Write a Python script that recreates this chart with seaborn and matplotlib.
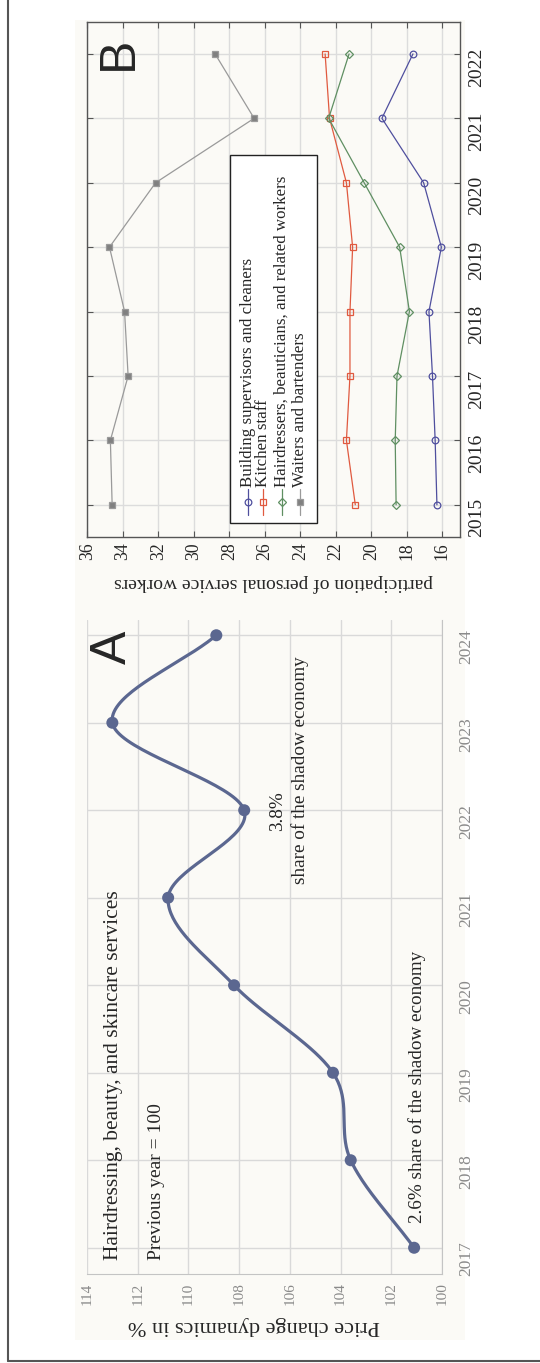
import numpy as np
import pandas as pd
import seaborn as sns
import matplotlib.pyplot as plt
from matplotlib.lines import Line2D
from matplotlib.patches import Rectangle

# Panel A: price change dynamics (previous year = 100)
yearsA = [2017, 2018, 2019, 2020, 2021, 2022, 2023, 2024]
priceA = [101.1, 103.6, 104.3, 108.2, 110.8, 107.8, 113.0, 108.9]

# Panel B: participation of personal service workers
yearsB = [2015, 2016, 2017, 2018, 2019, 2020, 2021, 2022]
building = [16.3, 16.4, 16.55, 16.75, 16.05, 17.05, 19.4, 17.65]
kitchen = [20.9, 21.4, 21.2, 21.2, 21.05, 21.4, 22.35, 22.6]
hairdressers = [18.6, 18.65, 18.55, 17.85, 18.4, 20.4, 22.4, 21.25]
waiters = [34.6, 34.7, 33.7, 33.9, 34.75, 32.15, 26.6, 28.8]
groupsB = ["Building supervisors and cleaners", "Kitchen staff",
           "Hairdressers, beauticians, and related workers", "Waiters and bartenders"]

W, H = 540, 1363
SERIF = "Liberation Serif"


def fx(px):
    return px / W


def fy(py):
    return 1 - py / H


def smooth(xs, ys, n=40):
    # catmull-rom style smoothing of the line between the points
    xs = np.asarray(xs, float)
    ys = np.asarray(ys, float)
    outx, outy = [], []
    k = len(xs)
    for i in range(k - 1):
        m0 = (ys[i + 1] - ys[i - 1]) / 2 if i > 0 else ys[1] - ys[0]
        m1 = (ys[i + 2] - ys[i]) / 2 if i + 2 < k else ys[-1] - ys[-2]
        t = np.linspace(0, 1, n)
        h00 = 2 * t**3 - 3 * t**2 + 1
        h10 = t**3 - 2 * t**2 + t
        h01 = -2 * t**3 + 3 * t**2
        h11 = t**3 - t**2
        outx.extend(xs[i] + t * (xs[i + 1] - xs[i]))
        outy.extend(h00 * ys[i] + h10 * m0 + h01 * ys[i + 1] + h11 * m1)
    return np.array(outx), np.array(outy)


sns.set_style("white")
plt.rcParams["font.family"] = [SERIF, "DejaVu Serif"]

fig = plt.figure(figsize=(W / 100, H / 100), dpi=100)
fig.patch.set_facecolor("white")

# off-white plotting area and outer frame
fig.add_artist(Rectangle((fx(75), fy(1340)), fx(465) - fx(75), fy(20) - fy(1340),
                         transform=fig.transFigure, facecolor="#fbfaf6", edgecolor="none", zorder=0))
fig.add_artist(Line2D([fx(8), fx(8)], [fy(1361), 1], transform=fig.transFigure, color="#555555", lw=1.5))
fig.add_artist(Line2D([fx(8), 1], [fy(1361), fy(1361)], transform=fig.transFigure, color="#555555", lw=1.5))

# ---------------- Panel A ----------------
axA = fig.add_axes([fx(87), fy(1274), fx(442) - fx(87), fy(619.5) - fy(1274)])
axA.set_facecolor("none")
sx, sy = smooth(yearsA, priceA)
dfA = pd.DataFrame({"year": sx, "price": sy})
sns.lineplot(data=dfA, x="price", y="year", orient="y", sort=False, color="#5b6790", lw=2.3, ax=axA)
sns.scatterplot(x=priceA, y=yearsA, color="#5b6790", s=75, edgecolor="none", zorder=5, ax=axA)
axA.set_xlim(114, 100)
axA.set_ylim(2016.7, 2024.18)
axA.set_xticks(np.arange(100, 115, 2))
axA.set_yticks(yearsA)
axA.grid(True, color="#d9d9d9", lw=1)
axA.yaxis.tick_right()
axA.tick_params(axis="x", labelrotation=90, labelsize=11, colors="#8a8a8a", length=0, pad=6)
axA.tick_params(axis="y", labelrotation=90, labelsize=12.5, colors="#8a8a8a", length=0, pad=12)
for s in ["top", "left"]:
    axA.spines[s].set_visible(False)
for s in ["bottom", "right"]:
    axA.spines[s].set_color("#c4c4c4")
axA.set_xlabel("Price change dynamics in %", rotation=180, fontsize=16)
axA.xaxis.set_label_coords(0.47, -0.064)
axA.set_ylabel("")

axA.text(112.97, 2016.86, "Hairdressing, beauty, and skincare services", rotation=90,
         ha="center", va="bottom", fontsize=15.5)
axA.text(111.24, 2016.86, "Previous year = 100", rotation=90, ha="center", va="bottom", fontsize=14)
axA.text(100.99, 2017.28, "2.6% share of the shadow economy", rotation=90, ha="center", va="bottom", fontsize=13.8)
axA.text(106.5, 2021.99, "3.8%", rotation=90, ha="center", va="center", fontsize=13.8)
axA.text(105.6, 2022.46, "share of the shadow economy", rotation=90, ha="center", va="center", fontsize=13.8)

fig.text(fx(113), fy(647), "A", rotation=90, ha="center", va="center", fontsize=36, family="Liberation Sans")

# ---------------- Panel B ----------------
axB = fig.add_axes([fx(87.3), fy(537), fx(460) - fx(87.3), fy(21.7) - fy(537)])
axB.set_facecolor("none")
styles = {
    groupsB[0]: dict(color="#4f4f9e", marker="o", mfc="none", ms=4.8),
    groupsB[1]: dict(color="#e05a40", marker="s", mfc="none", ms=4.8),
    groupsB[2]: dict(color="#5f8f62", marker="D", mfc="none", ms=3.8),
    groupsB[3]: dict(color="#9a9a9a", marker="s", mfc="#808080", ms=4.8),
}
seriesB = [building, kitchen, hairdressers, waiters]
for name, vals in zip(groupsB, seriesB):
    st = styles[name]
    sns.lineplot(x=vals, y=yearsB, orient="y", sort=False, color=st["color"], lw=0.9,
                 marker=st["marker"], markersize=st["ms"], mfc=st["mfc"], mec=st["color"], mew=0.9, ax=axB)

axB.set_xlim(36, 15)
axB.set_ylim(2014.5, 2022.5)
axB.set_xticks(np.arange(16, 37, 2))
axB.set_yticks(yearsB)
axB.grid(True, color="#dcdcdc", lw=1)
axB.yaxis.tick_right()
axB.tick_params(axis="both", direction="in", length=4, color="#555555",
                top=True, bottom=True, left=True, right=True)
axB.tick_params(axis="x", labelrotation=90, labelsize=12.7, pad=4)
axB.tick_params(axis="y", labelrotation=90, labelsize=14, pad=6)
for s in axB.spines.values():
    s.set_color("#555555")
    s.set_linewidth(1)
axB.set_xlabel("participation of personal service workers", rotation=180, fontsize=14, labelpad=10)
axB.set_ylabel("")

# legend box, drawn rotated like the rest of the figure
leg_x0, leg_x1 = (230 - 87.3) / 372.7, (317 - 87.3) / 372.7
leg_y0, leg_y1 = (537 - 523) / 515.3, (537 - 155) / 515.3
axB.add_patch(Rectangle((leg_x0, leg_y0), leg_x1 - leg_x0, leg_y1 - leg_y0, transform=axB.transAxes,
                        facecolor="white", edgecolor="#222222", lw=1, zorder=6))
leg_cols = [248, 263, 282, 300]
h0, h1 = (537 - 515) / 515.3, (537 - 489) / 515.3
for name, cx in zip(groupsB, leg_cols):
    st = styles[name]
    xa = (cx - 87.3) / 372.7
    axB.plot([xa, xa], [h0, h1], transform=axB.transAxes, color=st["color"], lw=0.9, zorder=7)
    axB.plot([xa], [(h0 + h1) / 2], transform=axB.transAxes, marker=st["marker"], markersize=st["ms"],
             mfc=st["mfc"], mec=st["color"], mew=0.9, zorder=8)
    axB.text(xa, h1 + 0.004, name, transform=axB.transAxes, rotation=90, ha="center", va="bottom",
             fontsize=12.2, zorder=8)

fig.text(fx(119), fy(53), "B", rotation=90, ha="center", va="center", fontsize=36, family="Liberation Sans")

fig.savefig("out.png", dpi=100)
